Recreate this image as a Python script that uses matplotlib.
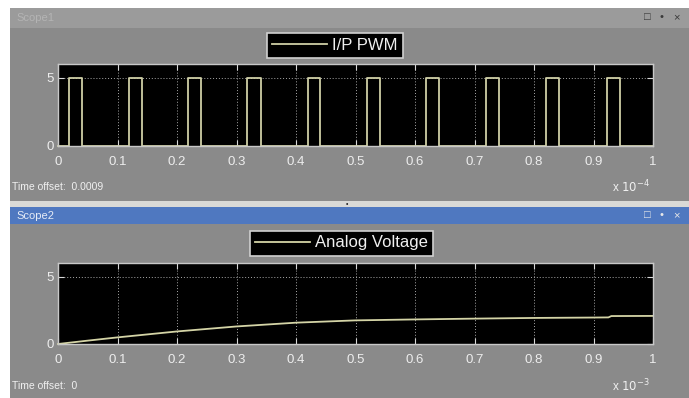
import numpy as np
import matplotlib
matplotlib.use('Agg')
import matplotlib.pyplot as plt
from matplotlib.patches import Rectangle

# Scope1: PWM pulse edges (time in units of 1e-4 s)
pwm_rise = [0.019, 0.119, 0.218, 0.318, 0.421, 0.520, 0.619, 0.720, 0.820, 0.922]
pwm_fall = [0.040, 0.141, 0.240, 0.341, 0.441, 0.542, 0.641, 0.742, 0.842, 0.945]
pwm_high = 5.0

# Scope2: analog voltage (time in units of 1e-3 s)
av_t = [0.0, 0.05, 0.1, 0.2, 0.3, 0.4, 0.5, 0.6, 0.7, 0.8, 0.9, 0.925, 0.93, 1.0]
av_v = [0.0, 0.25, 0.49, 0.93, 1.30, 1.58, 1.75, 1.82, 1.88, 1.93, 1.96, 1.97, 2.07, 2.08]

xticks = [0, 0.1, 0.2, 0.3, 0.4, 0.5, 0.6, 0.7, 0.8, 0.9, 1]
xticklabels = ['0', '0.1', '0.2', '0.3', '0.4', '0.5', '0.6', '0.7', '0.8', '0.9', '1']
yticks = [0, 5]

W, H = 689, 398


def box(x0, y0, x1, y1):
    # pixel box -> figure fraction rect
    return [x0 / W, 1 - y1 / H, (x1 - x0) / W, (y1 - y0) / H]


def rect(x0, y0, x1, y1, color):
    fig.patches.append(Rectangle((x0 / W, 1 - y1 / H), (x1 - x0) / W, (y1 - y0) / H,
                                 transform=fig.transFigure, facecolor=color,
                                 edgecolor='none', zorder=-5))


def ftext(x, y, s, **kw):
    fig.text(x / W, 1 - y / H, s, **kw)


plt.rcParams['font.family'] = ['Liberation Sans', 'DejaVu Sans']

fig = plt.figure(figsize=(W / 100, H / 100), dpi=100, facecolor='white')

body = '#8a8a8a'
# scope1 frame
rect(10, 8, 689, 28, '#9b9b9b')
rect(10, 28, 689, 201, body)
# separator
rect(10, 201, 689, 207, '#d9d9d6')
ftext(347, 205, '\u2022', color='#222222', fontsize=5, ha='center', va='center')
# scope2 frame
rect(10, 207, 689, 224, '#4f78c0')
rect(10, 224, 689, 398, body)

ftext(16, 18, 'Scope1', color='#b4b4b4', fontsize=8, va='center')
ftext(16, 216, 'Scope2', color='#e6ecf6', fontsize=8, va='center')
for xx, s in [(647, '\u25a1'), (661, '\u2022'), (676, '\u00d7')]:
    ftext(xx, 17, s, color='#3a3a3a', fontsize=8, ha='center', va='center')
    ftext(xx, 215, s, color='#e8e8e8', fontsize=8, ha='center', va='center')


def style(ax):
    ax.set_facecolor('black')
    ax.set_xlim(0, 1)
    ax.set_ylim(0, 6)
    ax.set_xticks(xticks)
    ax.set_xticklabels(xticklabels)
    ax.set_yticks(yticks)
    ax.tick_params(colors='#d8d8d8', labelcolor='#ededed', labelsize=9.5,
                   direction='in', length=4, top=True, right=True, pad=7)
    ax.tick_params(axis='y', pad=3)
    for sp in ax.spines.values():
        sp.set_color('#c8c8c8')
        sp.set_linewidth(1.0)
    ax.grid(True, color='#a8a8a8', linestyle=(0, (1, 2)), linewidth=0.7)


def legend(ax, anchor, loc):
    lg = ax.legend(loc=loc, bbox_to_anchor=(anchor[0] / W, 1 - anchor[1] / H),
                   bbox_transform=fig.transFigure, facecolor='black',
                   edgecolor='#d0d0d0', framealpha=1, fancybox=False,
                   labelcolor='#f0f0f0', fontsize=12, handlelength=3.3,
                   handletextpad=0.3, borderpad=0.3, borderaxespad=0)
    lg.get_frame().set_linewidth(1.2)


# top scope: PWM
ax1 = fig.add_axes(box(58, 64, 653, 146))
style(ax1)
t = [0.0]
v = [0.0]
for r, f in zip(pwm_rise, pwm_fall):
    t += [r, r, f, f]
    v += [0.0, pwm_high, pwm_high, 0.0]
t.append(1.0)
v.append(0.0)
ax1.plot(t, v, color='#cfcfa6', linewidth=1.3, label='I/P PWM', clip_on=False)
legend(ax1, (335, 45), 'center')

ftext(12, 187, 'Time offset:  0.0009', color='#f0f0f0', fontsize=7.5, va='center')
ftext(650, 187, r'x $10^{-4}$', color='#f0f0f0', fontsize=8.5, ha='right', va='center')

# bottom scope: analog voltage
ax2 = fig.add_axes(box(58, 263, 653, 344))
style(ax2)
ax2.plot(av_t, av_v, color='#d4d4a6', linewidth=1.3, label='Analog Voltage', clip_on=False)
legend(ax2, (433, 243), 'center right')

ftext(12, 386, 'Time offset:  0', color='#f0f0f0', fontsize=7.5, va='center')
ftext(650, 386, r'x $10^{-3}$', color='#f0f0f0', fontsize=8.5, ha='right', va='center')

fig.savefig('out.png', dpi=100, facecolor=fig.get_facecolor())
